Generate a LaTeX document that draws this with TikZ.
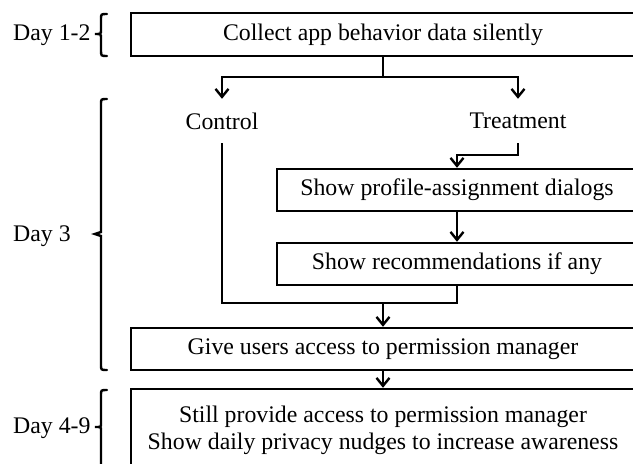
\documentclass[tikz,border=0pt]{standalone}
\usepackage{fontspec}
\setmainfont{Liberation Serif}
\usetikzlibrary{arrows.meta}
\begin{document}
\begin{tikzpicture}[x=1pt,y=-1pt,
  every node/.style={font=\fontsize{23.8}{27}\selectfont},
  box/.style={draw,line width=2.4pt,inner sep=0pt,align=center},
  lbl/.style={inner sep=0pt},
  conn/.style={line width=2.4pt},
  arr/.style={line width=2.4pt,-{Straight Barb[length=8pt,width=13pt,line width=2.4pt]}},
  brace/.style={line width=2.4pt,line cap=round}]
\useasboundingbox (0,0) rectangle (633,464);
\clip (0,0) rectangle (633,464);
% boxes
\node[box,minimum width=504pt,minimum height=43pt] (collect) at (383,34.5) {Collect app behavior data silently};
\node[lbl,minimum height=44pt] (control) at (222,121) {Control};
\node[lbl,minimum height=44pt] (treat) at (518,121) {Treatment};
\node[box,minimum width=360pt,minimum height=42pt] (prof) at (457,190) {Show profile-assignment dialogs};
\node[box,minimum width=360pt,minimum height=42pt] (rec) at (457,264) {Show recommendations if any};
\node[box,minimum width=504pt,minimum height=42pt] (give) at (383,349) {Give users access to permission manager};
\node[box,minimum width=504pt,minimum height=82pt] (still) at (383,430) {Still provide access to permission manager\\Show daily privacy nudges to increase awareness};
% connectors
\coordinate (split) at (383,77);
\coordinate (tturn) at (518,155);
\coordinate (merge) at (383,303);
\draw[conn] (collect.south) -- (split);
\draw[arr] (split) -| (control.north);
\draw[arr] (split) -| (treat.north);
\draw[arr] (treat.south) -- (tturn) -| (prof.north);
\draw[arr] (prof.south) -- (rec.north);
\draw[conn] (control.south) |- (merge) -| (rec.south);
\draw[arr] (merge) -- (give.north);
\draw[arr] (give.south) -- (still.north);
% day labels
\node[lbl,anchor=west] (d12) at (13,35) {Day 1-2};
\node[lbl,anchor=west] (d3) at (13,236) {Day 3};
\node[lbl,anchor=west] (d49) at (13,428) {Day 4-9};
% braces
\draw[brace] (107,14) .. controls (101,14) .. (101,19) -- (101,30) .. controls (101,34) .. (95,34) .. controls (101,34) .. (101,38) -- (101,50) .. controls (101,56) .. (107,56);
\draw[brace] (107,99) .. controls (101,99) .. (101,104) -- (101,232) -- (95,234) -- (101,236) -- (101,365) .. controls (101,370) .. (107,370);
\draw[brace] (107,390) .. controls (101,390) .. (101,395) -- (101,424) .. controls (101,427) .. (95,427) .. controls (101,427) .. (101,430) -- (101,480);
\end{tikzpicture}
\end{document}
